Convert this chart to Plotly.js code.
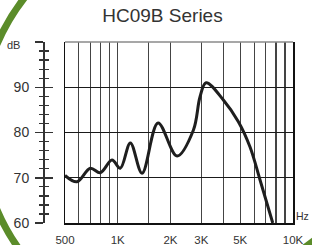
<!DOCTYPE html>
<html>
<head>
<meta charset="utf-8">
<script src="https://cdn.plot.ly/plotly-3.0.1.min.js"></script>
<style>html,body{margin:0;padding:0;background:#fff;}#chart{width:312px;height:245px;}</style>
</head>
<body>
<div id="chart"></div>
<script>
// Frequency response data
var freqHz = [500, 585, 697, 795, 927, 1034, 1180, 1376, 1698, 2180, 2700, 2948, 3190, 4005, 4878, 5687, 6486, 7665];
var splDb  = [70.5, 69.1, 72.1, 71.1, 73.9, 72.1, 77.7, 71.0, 82.1, 74.8, 80.5, 87.9, 91.0, 87.2, 82.4, 76.8, 69.5, 60.0];

// Axis ticks / grid
var xGridVals = [500, 600, 700, 800, 900, 1000, 1500, 2000, 3000, 4000, 5000, 6000, 7000, 8000, 9000, 10000];
var xGridText = ['500', '', '', '', '', '1K', '', '2K', '3K', '', '5K', '', '', '', '', '10K'];
var yTickVals = [60, 70, 80, 90, 100];
var yTickText = ['60', '70', '80', '90', ''];
var titleText = 'HC09B Series';
var yUnit = 'dB';
var xUnit = 'Hz';

var FONT = 'Liberation Sans, Arial, sans-serif';
var TXT = '#333';
var GREEN = '#5b8c2a';

var traces = [
  {x: freqHz, y: splDb, type: 'scatter', mode: 'lines',
   line: {color: '#1e1e1e', width: 3, shape: 'spline', smoothing: 1},
   xaxis: 'x', yaxis: 'y', hoverinfo: 'skip', cliponaxis: true},
  {x: [], y: [], type: 'scatter', mode: 'lines', xaxis: 'x', yaxis: 'y2', hoverinfo: 'skip'},
  {x: [], y: [], type: 'scatter', mode: 'lines', xaxis: 'x', yaxis: 'y3', hoverinfo: 'skip'}
];

var L = 43, R = 19, T = 42, B = 22;
var W = 312 - L - R, H = 245 - T - B;
function px(x) { return (x - L) / W; }
function py(y) { return (245 - B - y) / H; }

var layout = {
  width: 312, height: 245,
  margin: {l: L, r: R, t: T, b: B, pad: 0},
  paper_bgcolor: '#fff', plot_bgcolor: '#fff',
  showlegend: false,
  font: {family: FONT, color: TXT},
  title: {text: titleText, font: {family: FONT, size: 19, color: '#333'},
          x: 162.5 / 312, xanchor: 'center', y: 1 - 15.5 / 245, yanchor: 'middle',
          xref: 'container', yref: 'container'},
  xaxis: {
    type: 'log', range: [Math.log10(500), Math.log10(10000)],
    domain: [22 / W, 1],
    tickmode: 'array', tickvals: xGridVals, ticktext: xGridText,
    ticks: '', ticklabelstandoff: 6,
    tickfont: {family: FONT, size: 11.5, color: TXT},
    showgrid: true, gridcolor: '#444', gridwidth: 1.2,
    showline: true, linecolor: '#111', linewidth: 1.5, mirror: false,
    zeroline: false, fixedrange: true
  },
  yaxis: {
    range: [60, 100], anchor: 'x',
    tickmode: 'array', tickvals: [70, 80, 90], showticklabels: false, ticks: '',
    showgrid: true, gridcolor: '#1a1a1a', gridwidth: 1.3,
    showline: true, linecolor: '#111', linewidth: 1.5, mirror: true,
    zeroline: false, fixedrange: true
  },
  yaxis2: {
    range: [60, 100], overlaying: 'y', anchor: 'free', position: 0, side: 'left',
    tickmode: 'array', tickvals: yTickVals, ticktext: yTickText,
    ticks: 'outside', ticklen: 8, tickwidth: 1.5, tickcolor: '#333',
    minor: {ticks: 'outside', ticklen: 4, tickwidth: 1.3, tickcolor: '#333', tickmode: 'linear', tick0: 60, dtick: 2, showgrid: false},
    ticklabelstandoff: 3,
    tickfont: {family: FONT, size: 14, color: TXT},
    showline: true, linecolor: '#333', linewidth: 1.5,
    showgrid: false, zeroline: false, fixedrange: true
  },
  yaxis3: {
    range: [60, 100], overlaying: 'y', anchor: 'free', position: 0, side: 'left',
    tickmode: 'array', tickvals: yTickVals,
    ticks: 'inside', ticklen: 9, tickwidth: 1.5, tickcolor: '#333',
    minor: {ticks: 'inside', ticklen: 5, tickwidth: 1.3, tickcolor: '#333', tickmode: 'linear', tick0: 60, dtick: 2, showgrid: false},
    showticklabels: false,
    showline: false, showgrid: false, zeroline: false, fixedrange: true
  },
  annotations: [
    {text: yUnit, xref: 'paper', yref: 'paper', x: px(13), y: py(45), xanchor: 'center', yanchor: 'middle',
     showarrow: false, font: {family: FONT, size: 11, color: TXT}},
    {text: xUnit, xref: 'paper', yref: 'paper', x: px(311), y: py(216), xanchor: 'right', yanchor: 'middle',
     showarrow: false, font: {family: FONT, size: 10.5, color: TXT}}
  ],
  shapes: [
    // top border of the plot frame (lighter)
    {type: 'line', xref: 'paper', yref: 'paper', x0: 22 / W, x1: 1, y0: 1, y1: 1,
     line: {color: '#8a8a8a', width: 1.5}},
    // decorative green arc on the left
    {type: 'circle', xref: 'paper', yref: 'paper', layer: 'above',
     x0: px(190 - 210), x1: px(190 + 210), y0: py(127 + 210), y1: py(127 - 210),
     line: {color: GREEN, width: 7}, fillcolor: 'rgba(0,0,0,0)'},
    // decorative green corner at bottom right
    {type: 'path', xref: 'paper', yref: 'paper', layer: 'above',
     path: 'M ' + px(301) + ' ' + py(246) + ' L ' + px(313) + ' ' + py(237) + ' L ' + px(313) + ' ' + py(246) + ' Z',
     fillcolor: GREEN, line: {width: 0}}
  ]
};

Plotly.newPlot('chart', traces, layout, {staticPlot: true, displayModeBar: false});
</script>
</body>
</html>
